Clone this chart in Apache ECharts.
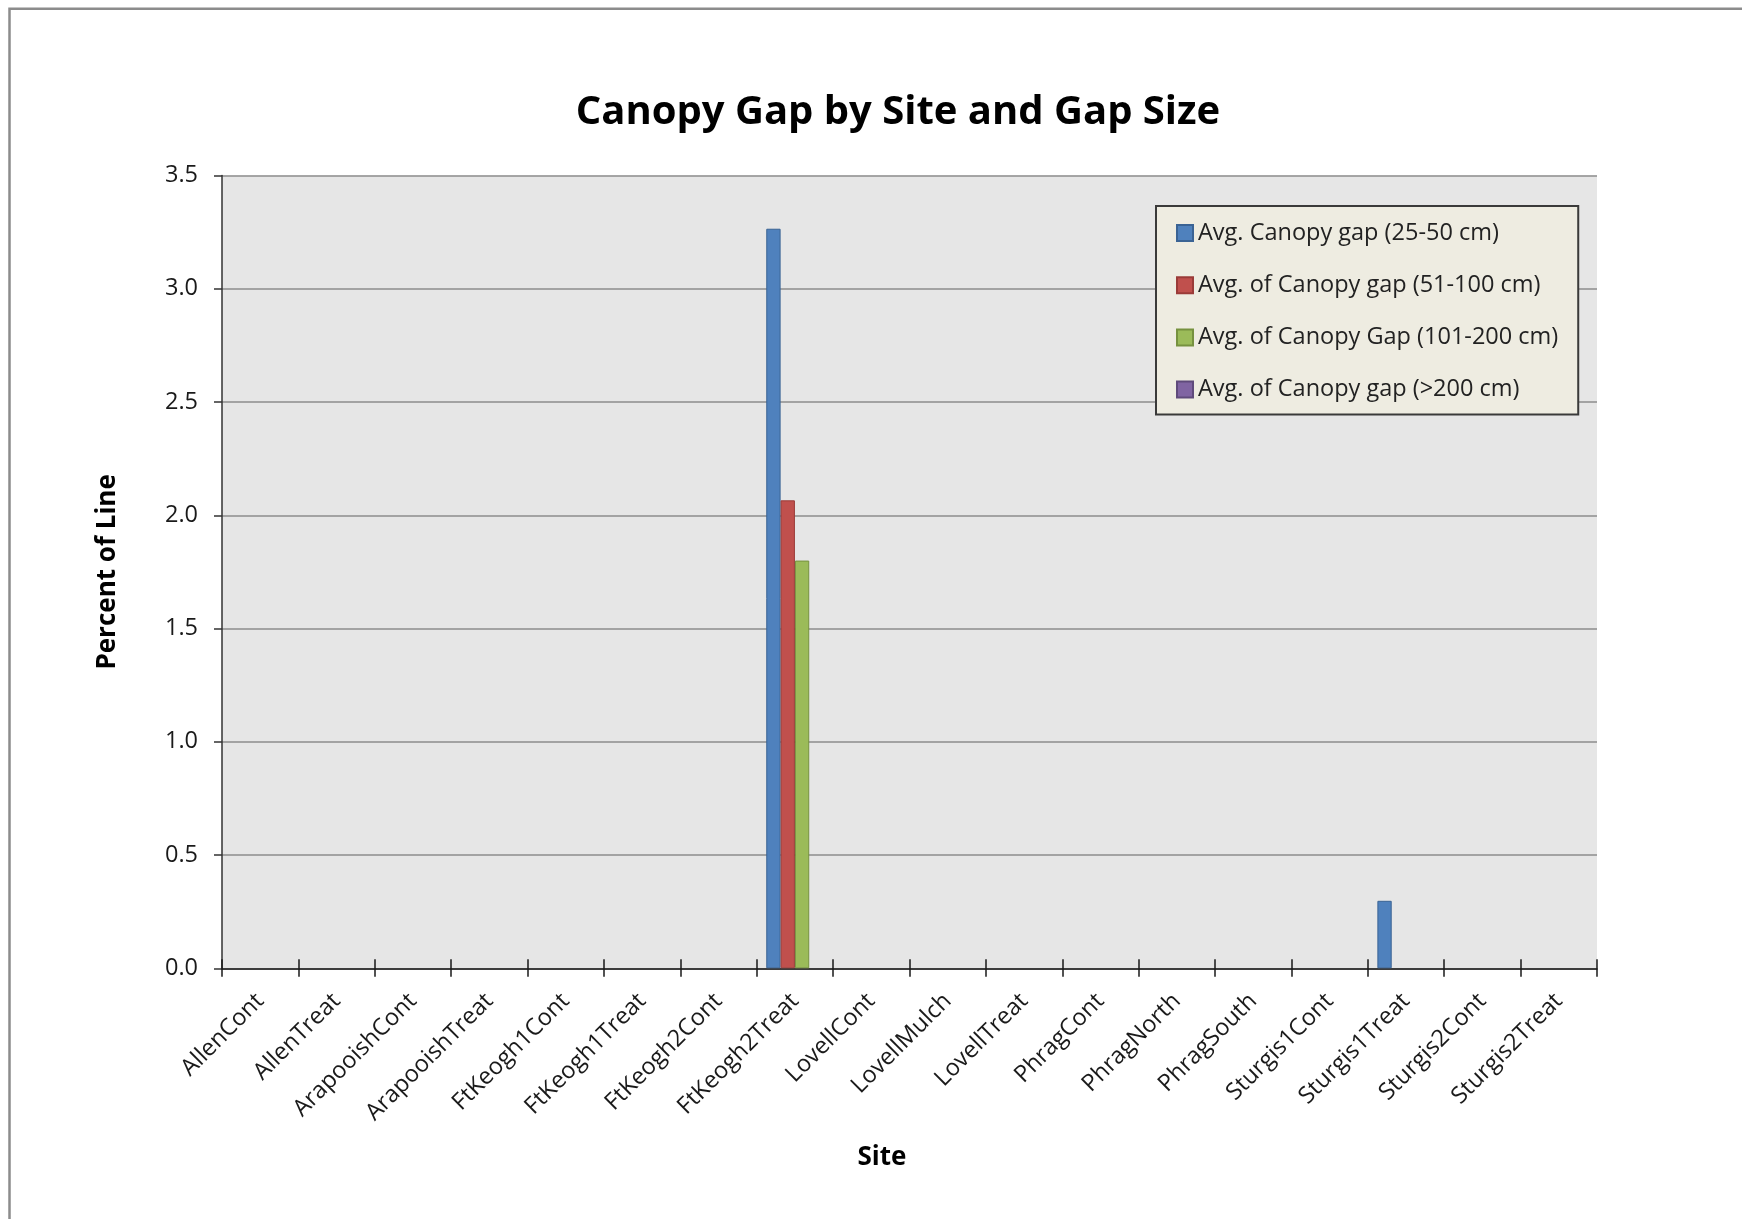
<!DOCTYPE html>
<html>
<head>
<meta charset="utf-8">
<title>Canopy Gap by Site and Gap Size</title>
<script src="https://cdn.jsdelivr.net/npm/echarts@6/dist/echarts.min.js"></script>
<style>
  html, body { margin: 0; padding: 0; background: #ffffff; }
  #chart { width: 1742px; height: 1219px; }
</style>
</head>
<body>
<div id="chart"></div>
<script>
// Sites along the x axis
const sites = [
  'AllenCont', 'AllenTreat', 'ArapooishCont', 'ArapooishTreat',
  'FtKeogh1Cont', 'FtKeogh1Treat', 'FtKeogh2Cont', 'FtKeogh2Treat',
  'LovellCont', 'LovellMulch', 'LovellTreat', 'PhragCont',
  'PhragNorth', 'PhragSouth', 'Sturgis1Cont', 'Sturgis1Treat',
  'Sturgis2Cont', 'Sturgis2Treat'
];

// Series names
const seriesNames = [
  'Avg. Canopy gap (25-50 cm)',
  'Avg. of Canopy gap (51-100 cm)',
  'Avg. of Canopy Gap (101-200 cm)',
  'Avg. of Canopy gap (>200 cm)'
];

// Percent of line per site (blank cells are null)
const gap25to50 = [null, null, null, null, null, null, null, 3.265, null, null, null, null, null, null, null, 0.298, null, null];
const gap51to100 = [null, null, null, null, null, null, null, 2.066, null, null, null, null, null, null, null, null, null, null];
const gap101to200 = [null, null, null, null, null, null, null, 1.80, null, null, null, null, null, null, null, null, null, null];
const gapOver200 = [null, null, null, null, null, null, null, null, null, null, null, null, null, null, null, null, null, null];

// Y axis range
const yMin = 0;
const yMax = 3.5;
const yStep = 0.5;

const FONT = 'Open Sans';
const fills = ['#4F81BD', '#C0504D', '#9BBB59', '#8064A2'];
const edges = ['#3A6394', '#9A3B38', '#76913F', '#5F4A7B'];
const seriesData = [gap25to50, gap51to100, gap101to200, gapOver200];

const chart = echarts.init(document.getElementById('chart'), null, { renderer: 'canvas' });

chart.setOption({
  backgroundColor: '#ffffff',
  animation: false,
  title: [
    {
      text: 'Canopy Gap by Site and Gap Size',
      left: 898,
      top: 91,
      padding: 0,
      textAlign: 'center',
      textStyle: { fontFamily: FONT, fontSize: 40, fontWeight: 'bold', color: '#000', lineHeight: 44 }
    },
    {
      text: 'Site',
      left: 882,
      top: 1144,
      padding: 0,
      textAlign: 'center',
      textStyle: { fontFamily: FONT, fontSize: 26, fontWeight: 'bold', color: '#000', lineHeight: 28 }
    }
  ],
  legend: {
    orient: 'vertical',
    left: 1156,
    top: 206,
    padding: [15, 20, 13, 20],
    itemGap: 28.2,
    itemWidth: 16,
    itemHeight: 16,
    icon: 'rect',
    backgroundColor: '#EEECE1',
    borderColor: '#3a3a3a',
    borderWidth: 2,
    textStyle: { fontFamily: FONT, fontSize: 23.5, color: '#222', lineHeight: 23.5 },
    data: seriesNames
  },
  grid: {
    left: 222,
    top: 175.5,
    right: 145,
    bottom: 250.7,
    show: true,
    backgroundColor: '#E6E6E6',
    borderWidth: 0
  },
  xAxis: [
    {
      type: 'category',
      data: sites,
      position: 'bottom',
      boundaryGap: true,
      axisLine: { show: true, lineStyle: { color: '#1a1a1a', width: 1.5 } },
      axisTick: { show: true, inside: false, length: 8.5, interval: 0, lineStyle: { color: '#1a1a1a', width: 1.5 } },
      axisLabel: {
        interval: 0,
        rotate: 45,
        margin: 29,
        fontFamily: FONT,
        fontSize: 23.5,
        color: '#1a1a1a'
      },
      splitLine: { show: false }
    },
    {
      type: 'category',
      data: sites,
      position: 'bottom',
      boundaryGap: true,
      axisLine: { show: false },
      axisTick: { show: true, inside: true, length: 9, interval: 0, lineStyle: { color: '#1a1a1a', width: 1.5 } },
      axisLabel: { show: false },
      splitLine: { show: false }
    }
  ],
  yAxis: {
    type: 'value',
    min: yMin,
    max: yMax,
    interval: yStep,
    name: 'Percent of Line',
    nameLocation: 'middle',
    nameGap: 101,
    nameTextStyle: { fontFamily: FONT, fontSize: 26, fontWeight: 'bold', color: '#000' },
    axisLine: { show: true, lineStyle: { color: '#333', width: 1.5 } },
    axisTick: { show: true, inside: false, length: 8, lineStyle: { color: '#333', width: 1.5 } },
    axisLabel: {
      margin: 24,
      fontFamily: FONT,
      fontSize: 23.5,
      color: '#1a1a1a',
      formatter: v => v.toFixed(1)
    },
    splitLine: { show: true, lineStyle: { color: '#8C8C8C', width: 1.5 } }
  },
  series: seriesNames.map((name, i) => ({
    name: name,
    type: 'bar',
    xAxisIndex: 0,
    data: seriesData[i],
    barGap: '0%',
    barCategoryGap: '25%',
    itemStyle: { color: fills[i], borderColor: edges[i], borderWidth: 1 }
  })),
  graphic: [
    {
      type: 'rect',
      silent: true,
      z: 100,
      shape: { x: 9.5, y: 8.7, width: 2000, height: 2000 },
      style: { fill: null, stroke: '#8C8C8C', lineWidth: 2.5 }
    }
  ]
});
</script>
</body>
</html>
